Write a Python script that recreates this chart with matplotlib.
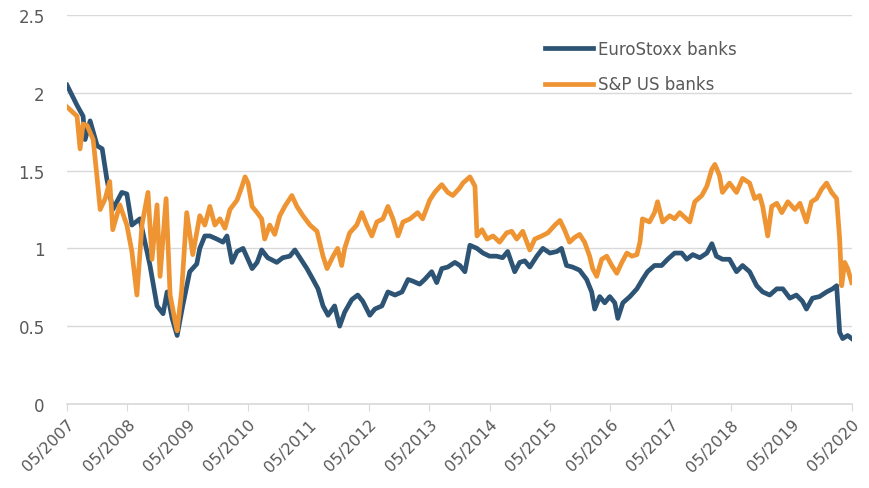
import numpy as np
import matplotlib.pyplot as plt

# months since 05/2007
euro_m = [0, 2.0, 3.2, 3.6, 4.6, 6.0, 7.0, 7.9, 9.1, 10.9, 11.9, 12.9, 14.5, 16.5, 17.9, 19.1,
          19.9, 20.9, 21.9, 23.0, 24.4, 25.8, 26.4, 27.4, 28.4, 29.8, 31.0, 31.8, 32.8, 33.8,
          35.0, 36.8, 37.8, 38.7, 39.9, 41.7, 42.9, 44.3, 45.3, 46.3, 47.7, 48.9, 49.9, 50.9,
          51.9, 53.2, 54.2, 55.2, 56.6, 57.8, 58.8, 60.2, 61.2, 62.6, 63.8, 65.2, 66.6, 67.8,
          68.7, 70.1, 71.1, 72.5, 73.5, 74.5, 75.7, 77.1, 78.1, 79.1, 80.1, 81.5, 82.7, 84.0,
          85.4, 86.6, 87.6, 89.0, 90.0, 91.0, 92.0, 93.4, 94.6, 96.0, 97.4, 98.3, 99.3, 100.5,
          101.9, 103.3, 104.3, 104.9, 105.9, 106.9, 107.9, 108.9, 109.5, 110.5, 111.9, 113.3,
          114.4, 115.4, 116.8, 118.2, 119.4, 120.8, 122.2, 123.2, 124.4, 125.8, 127.2, 128.2,
          129.1, 130.3, 131.7, 133.1, 134.3, 135.7, 137.1, 138.3, 139.7, 141.1, 142.3, 143.7,
          145.0, 146.2, 147.0, 148.2, 149.6, 151.0, 152.2, 153.0, 153.6, 154.2, 155.2, 156.0]
euro = [2.05, 1.92, 1.85, 1.70, 1.82, 1.66, 1.64, 1.45, 1.25, 1.36, 1.35, 1.15, 1.19, 0.89, 0.63, 0.58,
        0.72, 0.55, 0.44, 0.63, 0.85, 0.90, 1.00, 1.08, 1.08, 1.06, 1.04, 1.08, 0.91, 0.98,
        1.00, 0.87, 0.91, 0.99, 0.94, 0.91, 0.94, 0.95, 0.99, 0.94, 0.87, 0.80, 0.74, 0.63,
        0.57, 0.63, 0.50, 0.59, 0.67, 0.70, 0.66, 0.57, 0.61, 0.63, 0.72, 0.70, 0.72, 0.80,
        0.79, 0.77, 0.80, 0.85, 0.78, 0.87, 0.88, 0.91, 0.89, 0.85, 1.02, 1.00, 0.97, 0.95,
        0.95, 0.94, 0.98, 0.85, 0.91, 0.92, 0.88, 0.95, 1.00, 0.97, 0.98, 1.00, 0.89, 0.88,
        0.86, 0.80, 0.72, 0.61, 0.69, 0.65, 0.69, 0.65, 0.55, 0.65, 0.69, 0.74,
        0.80, 0.85, 0.89, 0.89, 0.93, 0.97, 0.97, 0.93, 0.96, 0.94, 0.97, 1.03,
        0.95, 0.93, 0.93, 0.85, 0.89, 0.85, 0.76, 0.72, 0.70, 0.74, 0.74, 0.68,
        0.70, 0.66, 0.61, 0.68, 0.69, 0.72, 0.74, 0.76, 0.46, 0.42, 0.44, 0.42]

us_m = [0, 2.0, 2.6, 3.2, 4.0, 5.2, 6.0, 6.6, 7.6, 8.5, 9.1, 10.5, 11.9, 12.9, 13.9, 14.9, 16.1,
        16.9, 17.9, 18.5, 19.7, 20.5, 21.5, 21.9, 22.8, 23.8, 25.0, 26.4, 27.4, 28.4, 29.4,
        30.4, 31.4, 32.4, 33.8, 34.8, 35.4, 36.0, 36.8, 37.8, 38.7, 39.3, 40.3, 41.3, 42.3,
        43.3, 44.7, 45.7, 46.9, 48.3, 49.7, 50.9, 51.7, 52.9, 53.8, 54.6, 55.2, 56.2, 57.6,
        58.6, 59.6, 60.6, 61.6, 62.8, 63.8, 64.8, 65.8, 66.8, 68.2, 69.7, 70.7, 72.1, 73.1,
        74.5, 75.7, 76.7, 78.1, 78.7, 80.1, 81.1, 81.5, 82.5, 83.5, 84.7, 86.0, 87.4, 88.4,
        89.4, 90.6, 92.0, 93.0, 94.4, 95.6, 97.0, 98.0, 98.9, 99.9, 100.9, 101.9, 102.9,
        103.9, 104.5, 105.3, 106.3, 107.3, 108.3, 109.3, 110.3, 111.3, 112.3, 113.3, 113.9,
        114.4, 115.8, 116.8, 117.4, 118.4, 119.8, 120.8, 121.8, 122.8, 123.8, 124.8, 126.2,
        127.2, 128.2, 128.8, 129.7, 130.3, 131.7, 133.1, 134.3, 135.7, 136.7, 137.7, 138.3,
        139.3, 140.1, 141.1, 142.1, 143.3, 144.7, 145.7, 147.0, 148.0, 149.0, 150.0, 151.0,
        152.0, 153.0, 153.6, 154.0, 154.6, 155.2, 156.0]
us = [1.91, 1.85, 1.64, 1.80, 1.79, 1.70, 1.45, 1.25, 1.32, 1.43, 1.12, 1.28, 1.15, 0.98, 0.70, 1.15, 1.36,
      0.93, 1.28, 0.82, 1.32, 0.70, 0.53, 0.47, 0.73, 1.23, 0.96, 1.21, 1.15, 1.27, 1.15,
      1.19, 1.13, 1.25, 1.31, 1.40, 1.46, 1.42, 1.27, 1.23, 1.19, 1.06, 1.15, 1.09, 1.21,
      1.27, 1.34, 1.27, 1.21, 1.15, 1.11, 0.95, 0.87, 0.95, 1.00, 0.89, 1.00, 1.10, 1.15,
      1.23, 1.15, 1.08, 1.17, 1.19, 1.27, 1.19, 1.08, 1.17, 1.19, 1.23, 1.19, 1.31, 1.36,
      1.41, 1.36, 1.34, 1.39, 1.42, 1.46, 1.40, 1.08, 1.12, 1.06, 1.08, 1.04, 1.10, 1.11,
      1.06, 1.11, 0.99, 1.06, 1.08, 1.10, 1.15, 1.18, 1.12, 1.04, 1.07, 1.09, 1.04,
      0.95, 0.87, 0.82, 0.93, 0.95, 0.89, 0.84, 0.91, 0.97, 0.95, 0.96, 1.04,
      1.19, 1.17, 1.23, 1.30, 1.17, 1.21, 1.19, 1.23, 1.20, 1.17, 1.30, 1.34,
      1.40, 1.51, 1.54, 1.47, 1.36, 1.42, 1.36, 1.45, 1.42, 1.32, 1.34, 1.27,
      1.08, 1.27, 1.29, 1.23, 1.30, 1.25, 1.29, 1.17, 1.30, 1.32, 1.38, 1.42,
      1.36, 1.32, 1.06, 0.76, 0.91, 0.87, 0.78]

tick_labels = ['05/%d' % y for y in range(2007, 2021)]

fig = plt.figure(figsize=(8.7, 4.89), dpi=100)
ax = fig.add_axes([0.077, 0.172, 0.902, 0.795])

ax.plot(euro_m, euro, color='#2D5475', lw=3.4, label='EuroStoxx banks', solid_joinstyle='round')
ax.plot(us_m, us, color='#EE9433', lw=3.4, label='S&P US banks', solid_joinstyle='round')

ax.set_xlim(0, 156)
ax.set_ylim(0, 2.5)
ax.set_yticks([0, 0.5, 1, 1.5, 2, 2.5])
ax.set_yticklabels(['0', '0.5', '1', '1.5', '2', '2.5'])
ax.set_xticks(np.arange(0, 157, 12))
ax.set_xticklabels(tick_labels, rotation=45, ha='right', rotation_mode='anchor')

ax.grid(axis='y', color='#D9D9D9', lw=1)
ax.set_axisbelow(True)
for s in ['top', 'right', 'left']:
    ax.spines[s].set_visible(False)
ax.spines['bottom'].set_color('#D9D9D9')
ax.spines['bottom'].set_linewidth(1.2)
ax.tick_params(axis='y', length=0, labelsize=12, labelcolor='#595959', pad=16)
ax.tick_params(axis='x', length=5, color='#D9D9D9', labelsize=11.5, labelcolor='#595959', pad=4)

ax.legend(loc='upper left', bbox_to_anchor=(0.59, 0.975), frameon=False, fontsize=12,
          labelcolor='#595959', handlelength=2.9, handletextpad=0.3, labelspacing=1.05)

fig.savefig('out.png', dpi=100)
